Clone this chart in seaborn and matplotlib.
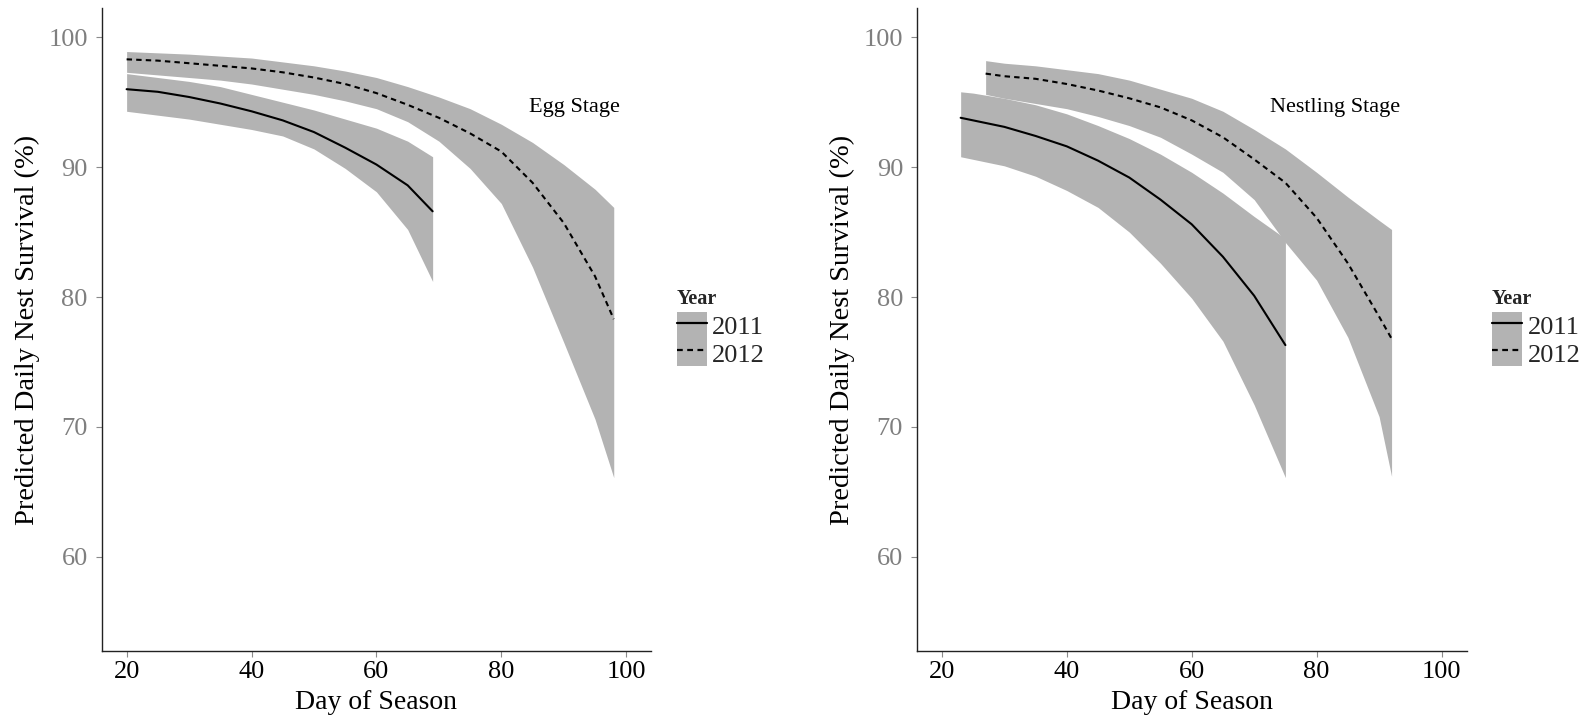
import matplotlib
matplotlib.use("Agg")
import matplotlib.pyplot as plt
import seaborn as sns
import pandas as pd
from matplotlib.patches import Patch
from matplotlib.lines import Line2D

sns.set_theme(style="white")
plt.rcParams['font.family'] = ['Liberation Serif', 'DejaVu Serif']

# ---- Egg stage ----
egg11_x = [20, 25, 30, 35, 40, 45, 50, 55, 60, 65, 69]
egg11_y = [96.0, 95.8, 95.4, 94.9, 94.3, 93.6, 92.7, 91.5, 90.2, 88.6, 86.6]
egg11_lo = [94.3, 94.0, 93.7, 93.3, 92.9, 92.4, 91.4, 89.9, 88.1, 85.2, 81.2]
egg11_hi = [97.2, 96.9, 96.6, 96.2, 95.6, 95.0, 94.4, 93.7, 93.0, 92.0, 90.8]

egg12_x = [20, 25, 30, 35, 40, 45, 50, 55, 60, 65, 70, 75, 80, 85, 90, 95, 98]
egg12_y = [98.3, 98.2, 98.0, 97.8, 97.6, 97.3, 96.9, 96.4, 95.7, 94.8, 93.8, 92.6,
           91.2, 88.8, 85.7, 81.6, 78.3]
egg12_lo = [97.3, 97.1, 96.9, 96.7, 96.4, 96.0, 95.6, 95.1, 94.5, 93.5, 92.0, 89.9,
            87.2, 82.3, 76.5, 70.6, 66.1]
egg12_hi = [98.9, 98.8, 98.7, 98.55, 98.4, 98.1, 97.8, 97.4, 96.9, 96.2, 95.4, 94.5,
            93.3, 91.9, 90.2, 88.3, 86.9]

# ---- Nestling stage ----
nes11_x = [23, 25, 30, 35, 40, 45, 50, 55, 60, 65, 70, 75]
nes11_y = [93.8, 93.6, 93.1, 92.4, 91.6, 90.5, 89.2, 87.5, 85.6, 83.1, 80.1, 76.3]
nes11_lo = [90.8, 90.6, 90.1, 89.3, 88.2, 86.9, 85.0, 82.6, 79.9, 76.6, 71.7, 66.1]
nes11_hi = [95.8, 95.7, 95.3, 94.8, 94.1, 93.2, 92.2, 91.0, 89.6, 88.0, 86.2, 84.5]

nes12_x = [27, 30, 35, 40, 45, 50, 55, 60, 65, 70, 75, 80, 85, 90, 92]
nes12_y = [97.2, 97.0, 96.8, 96.4, 95.9, 95.3, 94.6, 93.6, 92.3, 90.6, 88.8, 86.1,
           82.6, 78.5, 76.8]
nes12_lo = [95.6, 95.3, 94.9, 94.5, 93.9, 93.2, 92.3, 91.0, 89.6, 87.5, 84.2, 81.3,
            76.9, 70.8, 66.2]
nes12_hi = [98.2, 98.0, 97.8, 97.5, 97.2, 96.7, 96.0, 95.3, 94.3, 92.9, 91.4, 89.6,
            87.7, 85.9, 85.2]

years = ["2011", "2012"]
x_ticks = [20, 40, 60, 80, 100]
y_ticks = [60, 70, 80, 90, 100]
stage_labels = ["Egg Stage", "Nestling Stage"]
label_pos = [(91.75, 94.25), (83.0, 94.25)]

RIBBON = "#b3b3b3"
DASH = (2.6, 2.0)

fig = plt.figure(figsize=(15.93, 7.22), dpi=100)
axes = [fig.add_axes([0.0638, 0.0983, 0.345, 0.8906]),
        fig.add_axes([0.5756, 0.0983, 0.345, 0.8906])]

panels = [
    [(egg11_x, egg11_y, egg11_lo, egg11_hi), (egg12_x, egg12_y, egg12_lo, egg12_hi)],
    [(nes11_x, nes11_y, nes11_lo, nes11_hi), (nes12_x, nes12_y, nes12_lo, nes12_hi)],
]

for ax, series, lab, pos in zip(axes, panels, stage_labels, label_pos):
    frames = []
    for yr, (xs, ys, lo, hi) in zip(years, series):
        ax.fill_between(xs, lo, hi, color=RIBBON, linewidth=0, zorder=1)
        frames.append(pd.DataFrame({"day": xs, "surv": ys, "Year": yr}))
    df = pd.concat(frames, ignore_index=True)
    sns.lineplot(data=df, x="day", y="surv", style="Year",
                 style_order=years, dashes={"2011": "", "2012": DASH},
                 color="black", linewidth=1.5, ax=ax, legend=False, zorder=3,
                 estimator=None, sort=True)
    ax.set_xlim(16, 104)
    ax.set_ylim(52.75, 102.25)
    ax.set_xticks(x_ticks)
    ax.set_yticks(y_ticks)
    ax.set_xlabel("Day of Season", fontsize=20, labelpad=5, color="black")
    ax.set_ylabel("Predicted Daily Nest Survival (%)", fontsize=20.5, labelpad=6, color="black")
    ax.tick_params(axis="x", labelsize=19, labelcolor="black", length=4, width=0.8,
                   color="#8a8a8a", pad=3.5, bottom=True)
    ax.tick_params(axis="y", labelsize=19, labelcolor="#7f7f7f", length=4, width=0.8,
                   color="#8a8a8a", pad=6, left=True)
    for s in ["top", "right"]:
        ax.spines[s].set_visible(False)
    for s in ["left", "bottom"]:
        ax.spines[s].set_color("#222222")
        ax.spines[s].set_linewidth(1.0)
    ax.grid(False)
    ax.text(pos[0], pos[1], lab, fontsize=16, ha="center", va="baseline", color="black")

    handles = [
        (Patch(facecolor=RIBBON, edgecolor="none"), Line2D([], [], color="black", lw=1.6)),
        (Patch(facecolor=RIBBON, edgecolor="none"),
         Line2D([], [], color="black", lw=1.6, ls=(0, DASH))),
    ]
    leg = ax.legend(handles, years, title="Year", loc="upper left",
                    bbox_to_anchor=(1.0464, 0.563), frameon=False, fontsize=19,
                    title_fontproperties={"weight": "bold", "size": 14.5},
                    handlelength=1.14, handleheight=1.2, labelspacing=0.0,
                    handletextpad=0.2, borderpad=0, borderaxespad=0)
    leg._legend_box.align = "left"
    leg._legend_box.sep = 2

fig.savefig("out.png", dpi=100)
